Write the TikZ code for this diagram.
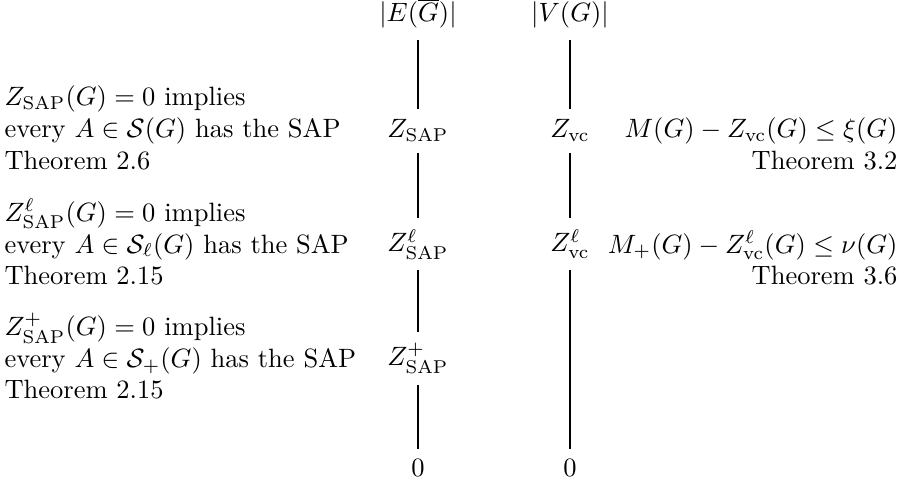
\documentclass[tikz,border=0pt]{standalone}
\usepackage{tikz}
\usetikzlibrary{positioning, calc}

\begin{document}
\begin{tikzpicture}[
    x=0.3774pt, y=-0.3774pt,
    param/.style={inner sep=4pt, anchor=base},
    edge/.style={semithick},
    note/.style={align=left, inner sep=0pt, anchor=west},
    bound/.style={align=right, inner sep=0pt, anchor=east}
    ]
    \useasboundingbox (0,0) rectangle (903,485);
    \coordinate (L) at (4,0);
    \coordinate (R) at (898,0);

    % left column: edges of the complement
    \node[param] (esize) at (418,22) {$|E(\overline{G})|$};
    \node[param] (zsap)  at (418,138) {$Z_{\mathrm{SAP}}$};
    \node[param] (zsapl) at (418,252) {$Z^{\ell}_{\mathrm{SAP}}$};
    \node[param] (zsapp) at (418,366) {$Z^{+}_{\mathrm{SAP}}$};
    \node[param] (zeroE) at (418,477) {$0$};

    % right column: vertices
    \node[param] (vsize) at (570,22) {$|V(G)|$};
    \node[param] (zvc)   at (570,138) {$Z_{\mathrm{vc}}$};
    \node[param] (zvcl)  at (570,252) {$Z^{\ell}_{\mathrm{vc}}$};
    \node[param] (zeroV) at (570,477) {$0$};

    \foreach \a/\b in {esize/zsap, zsap/zsapl, zsapl/zsapp, zsapp/zeroE,
                       vsize/zvc, zvc/zvcl, zvcl/zeroV}
        \draw[edge] (\a) -- (\b);

    % notes on the left
    \node[note] (sapnote) at ($(L |- zsap.base)+(0,3.75pt)$)
        {$Z_{\mathrm{SAP}}(G)=0$ implies\\
         every $A\in\mathcal{S}(G)$ has the SAP\\
         Theorem 2.6};
    \node[note] (sapnotel) at ($(L |- zsapl.base)+(0,3.75pt)$)
        {$Z^{\ell}_{\mathrm{SAP}}(G)=0$ implies\\
         every $A\in\mathcal{S}_{\ell}(G)$ has the SAP\\
         Theorem 2.15};
    \node[note] (sapnotep) at ($(L |- zsapp.base)+(0,3.75pt)$)
        {$Z^{+}_{\mathrm{SAP}}(G)=0$ implies\\
         every $A\in\mathcal{S}_{+}(G)$ has the SAP\\
         Theorem 2.15};

    % bounds on the right
    \node[bound] (vcbound) at ($(R |- zvc.base)+(0,-2.25pt)$)
        {$M(G)-Z_{\mathrm{vc}}(G)\le\xi(G)$\\ Theorem 3.2};
    \node[bound] (vcboundl) at ($(R |- zvcl.base)+(0,-2.25pt)$)
        {$M_{+}(G)-Z^{\ell}_{\mathrm{vc}}(G)\le\nu(G)$\\ Theorem 3.6};
\end{tikzpicture}
\end{document}
